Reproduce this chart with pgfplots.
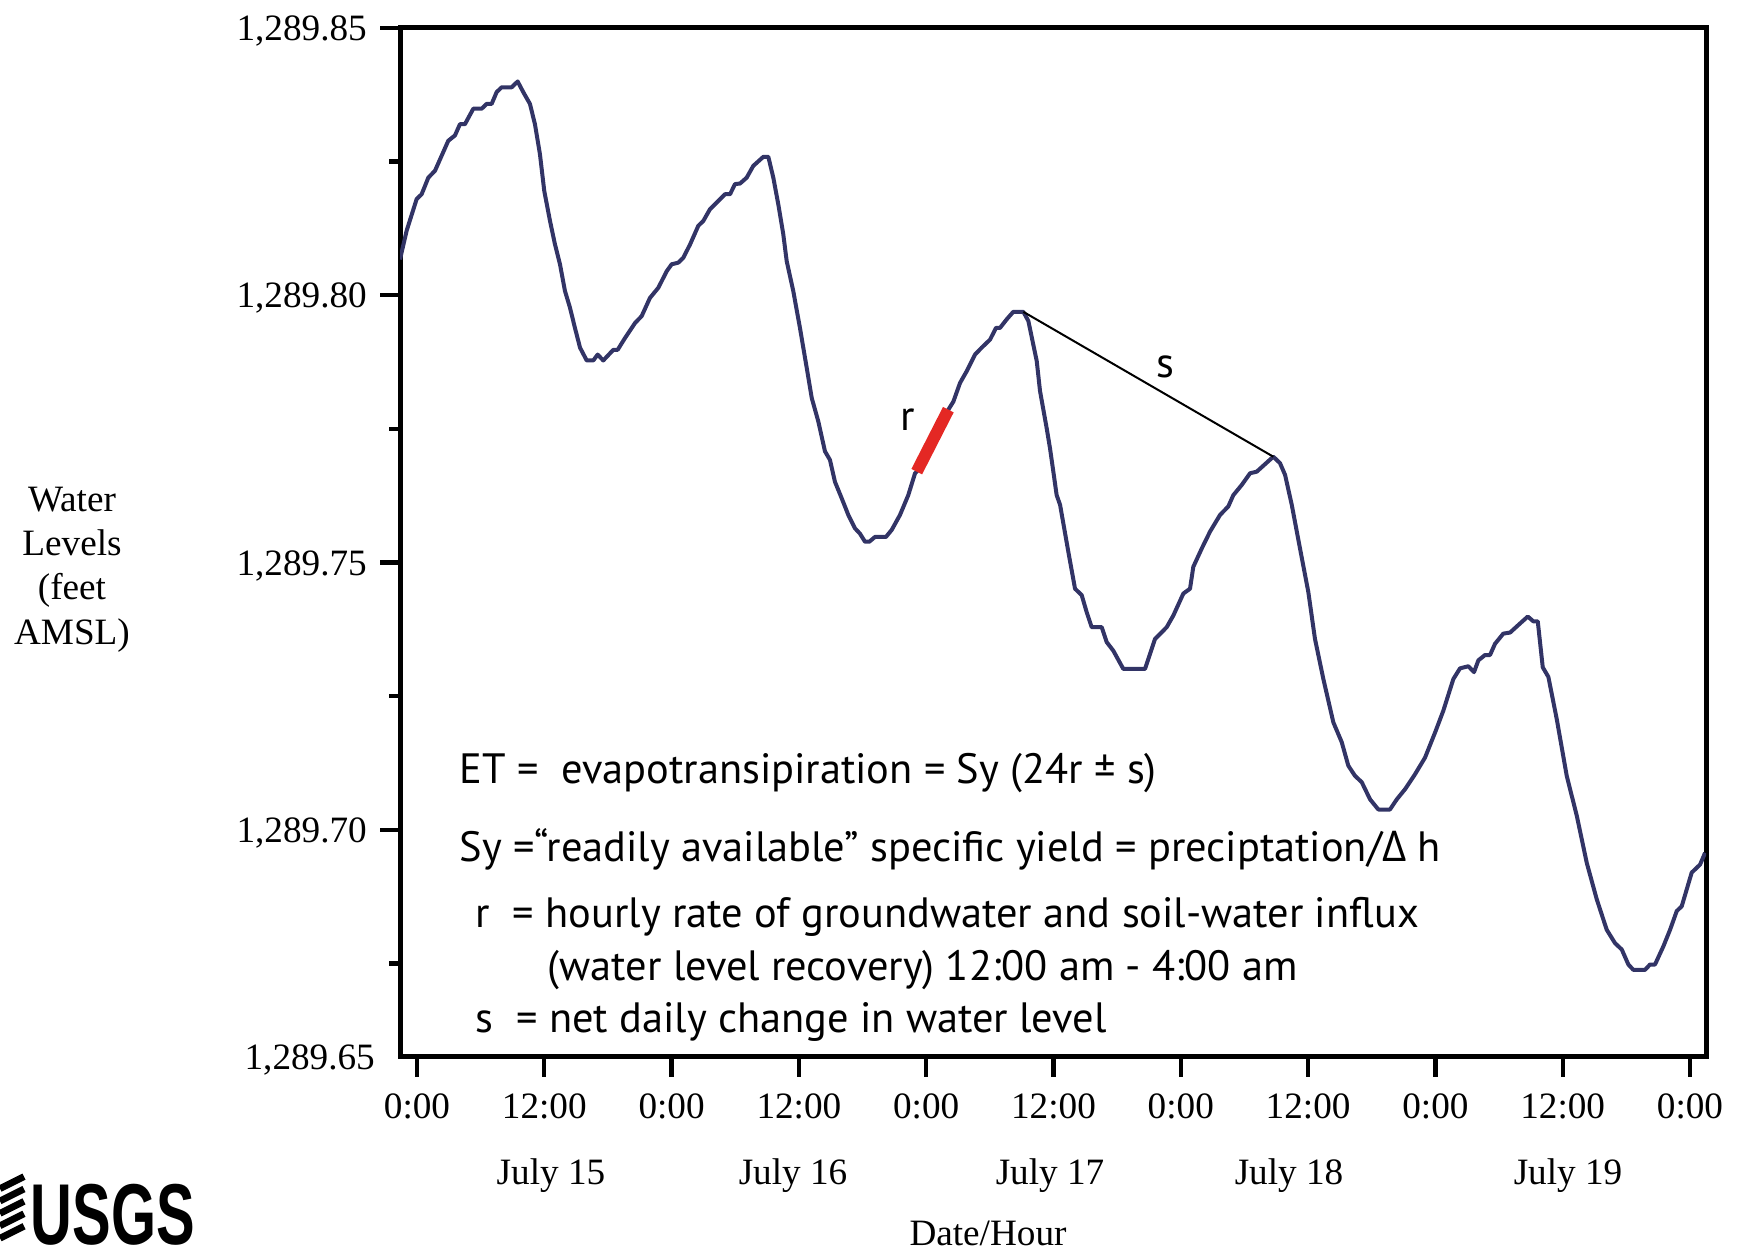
\documentclass[border=0pt]{standalone}
\usepackage{pgfplots}
\pgfplotsset{compat=1.18}
\usepackage{graphicx}
\usepackage{fontspec}
\setmainfont{Liberation Serif}
\newfontfamily\myriad{PT Sans}
\newfontfamily\greek{Open Sans}
\newfontfamily\logofont{Liberation Sans}
\definecolor{wl}{RGB}{50,52,102}
\definecolor{rr}{RGB}{228,40,36}

\pgfplotstableread{
x y
-1.60 1289.8067
-0.97 1289.8121
-0.03 1289.8180
0.44 1289.8189
1.07 1289.8220
1.70 1289.8233
2.95 1289.8289
3.58 1289.8299
4.05 1289.8320
4.52 1289.8320
5.31 1289.8349
6.10 1289.8349
6.57 1289.8358
7.04 1289.8358
7.51 1289.8380
7.98 1289.8389
8.93 1289.8389
9.49 1289.8400
10.02 1289.8380
10.65 1289.8358
11.12 1289.8320
11.59 1289.8264
12.00 1289.8195
12.54 1289.8139
13.01 1289.8095
13.48 1289.8058
13.95 1289.8008
14.42 1289.7977
14.89 1289.7939
15.37 1289.7902
16.00 1289.7878
16.62 1289.7878
17.03 1289.7889
17.56 1289.7878
18.51 1289.7898
18.92 1289.7898
19.61 1289.7920
20.55 1289.7948
21.18 1289.7961
21.96 1289.7995
22.75 1289.8014
23.54 1289.8045
24.01 1289.8058
24.63 1289.8061
25.10 1289.8070
25.74 1289.8095
26.52 1289.8130
26.99 1289.8139
27.62 1289.8161
29.03 1289.8189
29.51 1289.8189
29.98 1289.8208
30.45 1289.8209
31.08 1289.8220
31.70 1289.8242
32.65 1289.8259
33.12 1289.8259
33.59 1289.8220
34.06 1289.8170
34.53 1289.8114
34.85 1289.8064
35.47 1289.8008
36.10 1289.7939
36.74 1289.7864
37.21 1289.7808
37.83 1289.7764
38.46 1289.7708
38.93 1289.7692
39.40 1289.7651
40.04 1289.7620
40.66 1289.7589
41.29 1289.7564
41.76 1289.7554
42.23 1289.7539
42.64 1289.7539
43.18 1289.7548
44.21 1289.7548
44.75 1289.7561
45.53 1289.7589
46.31 1289.7626
46.95 1289.7667
47.11 1289.7670
50.09 1289.7786
50.56 1289.7801
51.19 1289.7836
51.82 1289.7858
52.60 1289.7889
53.23 1289.7902
54.02 1289.7917
54.58 1289.7939
54.96 1289.7939
55.59 1289.7955
56.21 1289.7969
57.16 1289.7969
57.63 1289.7952
58.42 1289.7877
58.73 1289.7821
59.36 1289.7751
59.67 1289.7714
60.30 1289.7626
60.62 1289.7608
61.40 1289.7520
62.03 1289.7451
62.66 1289.7439
63.13 1289.7407
63.60 1289.7379
64.55 1289.7379
65.02 1289.7351
65.64 1289.7335
66.58 1289.7301
68.63 1289.7301
69.57 1289.7357
70.67 1289.7379
71.30 1289.7401
72.24 1289.7442
72.87 1289.7451
73.18 1289.7492
73.97 1289.7526
74.76 1289.7558
75.70 1289.7589
76.48 1289.7605
76.95 1289.7626
77.74 1289.7645
78.53 1289.7667
79.16 1289.7670
80.72 1289.7698
81.35 1289.7686
81.83 1289.7664
82.46 1289.7608
83.24 1289.7526
84.02 1289.7445
84.65 1289.7357
85.44 1289.7282
86.38 1289.7201
87.17 1289.7164
87.79 1289.7120
88.42 1289.7101
89.06 1289.7089
89.84 1289.7057
90.62 1289.7038
91.72 1289.7038
92.36 1289.7057
93.14 1289.7076
94.08 1289.7104
95.02 1289.7135
95.97 1289.7182
96.75 1289.7223
97.69 1289.7282
98.32 1289.7302
99.11 1289.7306
99.64 1289.7295
100.05 1289.7317
100.68 1289.7327
101.15 1289.7327
101.62 1289.7348
102.40 1289.7367
103.04 1289.7369
103.98 1289.7386
104.71 1289.7399
105.23 1289.7390
105.65 1289.7390
106.12 1289.7304
106.65 1289.7286
107.44 1289.7207
108.38 1289.7101
109.33 1289.7026
110.27 1289.6938
111.21 1289.6870
112.15 1289.6813
112.93 1289.6788
113.57 1289.6776
114.19 1289.6748
114.66 1289.6738
115.76 1289.6738
116.23 1289.6748
116.70 1289.6748
117.49 1289.6782
118.12 1289.6813
118.75 1289.6848
119.22 1289.6857
120.16 1289.6920
120.95 1289.6935
121.42 1289.6957
}\level

\begin{document}
\fontsize{9.3}{11.1}\selectfont
\begin{tikzpicture}
\useasboundingbox (-100pt,-48pt) rectangle (335.25pt,264.25pt);
\begin{axis}[
  at={(0,0)}, anchor=south west,
  scale only axis, width=326.5pt, height=257.25pt,
  xmin=-1.6, xmax=121.51, ymin=1289.6575, ymax=1289.85,
  axis line style={line width=1.25pt, black},
  tick align=outside, xtick pos=bottom, ytick pos=left,
  xtick={0,12,...,120},
  xticklabels={0:00,12:00,0:00,12:00,0:00,12:00,0:00,12:00,0:00,12:00,0:00},
  xticklabel style={yshift=-1pt},
  ytick={1289.70,1289.75,1289.80,1289.85},
  minor ytick={1289.675,1289.725,1289.775,1289.825},
  extra y ticks={1289.6575},
  extra y tick labels={1{,}289.65},
  extra y tick style={major tick length=0pt, yticklabel style={xshift=-3pt}},
  major tick length=5pt, minor tick length=2.75pt,
  every tick/.style={black, line width=1.1pt},
  /pgf/number format/assume math mode=true,
  yticklabel style={/pgf/number format/fixed, /pgf/number format/fixed zerofill,
    /pgf/number format/precision=2, /pgf/number format/1000 sep={,}, yshift=-0.8pt},
  ticklabel style={font=\fontsize{9.3}{11}\selectfont},
]
\addplot[wl, line width=1pt, line join=round] table {\level};
\addplot[rr, line width=3pt] coordinates {(47.11,1289.7670) (50.09,1289.7786)};
\addplot[black, line width=0.5pt] coordinates {(57.16,1289.7969) (80.72,1289.7698)};
\end{axis}

% date labels
\node[anchor=base] at (37.75pt,-31.75pt) {July 15};
\node[anchor=base] at (98.25pt,-31.75pt) {July 16};
\node[anchor=base] at (162.5pt,-31.75pt) {July 17};
\node[anchor=base] at (222.25pt,-31.75pt) {July 18};
\node[anchor=base] at (292pt,-31.75pt) {July 19};
\node[anchor=base] at (147pt,-47pt) {Date/Hour};
\node[align=center] at (-82pt,121.9pt) {Water\\Levels\\(feet\\AMSL)};

% annotations
\begin{scope}[every node/.style={anchor=base west, inner sep=0pt, font=\myriad\fontsize{10.6}{12}\selectfont}]
\node at (14.75pt,68.25pt) {ET =\ \ evapotransipiration = Sy (24r ± s)};
\node at (14.75pt,48.75pt) {Sy =“readily available” specific yield = preciptation/{\greek Δ} h};
\node at (18.75pt,32.25pt) {r\ \ = hourly rate of groundwater and soil-water influx};
\node at (36.75pt,19pt) {(water level recovery) 12:00 am - 4:00 am};
\node at (18.75pt,6pt) {s\ \ = net daily change in water level};
\node[anchor=center] at (127pt,159.25pt) {r};
\node[anchor=center] at (191.25pt,172.6pt) {s};
\end{scope}

% logo
\node[anchor=base west, inner sep=0pt] at (-92.5pt,-46.8pt)
  {\scalebox{0.67}[1]{\logofont\bfseries\fontsize{21.6}{22}\selectfont USGS}};
\foreach \i in {0,...,4}
  \draw[line width=1.7pt] (-100pt,{-45.3pt+\i*3.1pt}) .. controls (-97pt,{-43.8pt+\i*3.1pt}) .. (-94pt,{-42.3pt+\i*3.1pt});
\end{tikzpicture}
\end{document}
